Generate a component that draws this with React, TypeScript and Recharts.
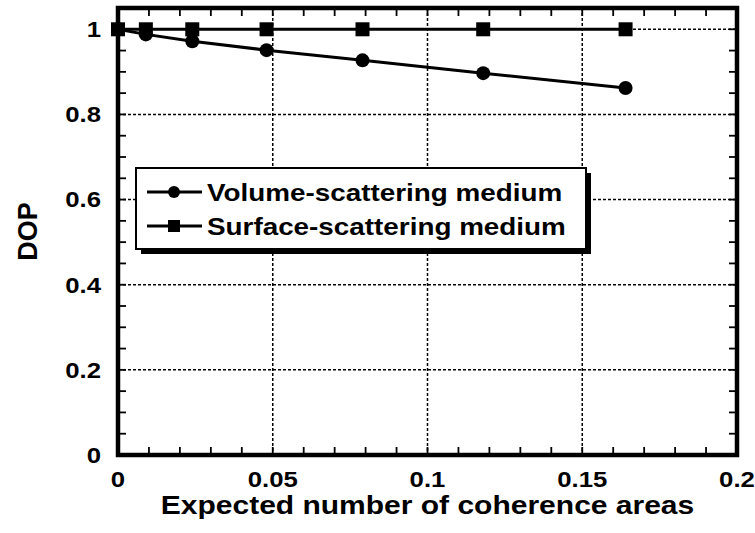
import React from 'react';
import { LineChart, Line, XAxis, YAxis, CartesianGrid, Legend, ReferenceLine, ReferenceArea } from 'recharts';

// values
const coherenceAreas = [0, 0.009, 0.024, 0.048, 0.079, 0.118, 0.164];
const volumeDop = [1.0, 0.988, 0.972, 0.951, 0.927, 0.897, 0.862];
const surfaceDop = [1.0, 1.0, 1.0, 1.0, 1.0, 1.0, 1.0];

const seriesNames = ['Volume-scattering medium', 'Surface-scattering medium'];

const xMajorTicks = [0, 0.05, 0.1, 0.15, 0.2];
const xAllTicks = [
  0, 0.01, 0.02, 0.03, 0.04, 0.05, 0.06, 0.07, 0.08, 0.09, 0.1,
  0.11, 0.12, 0.13, 0.14, 0.15, 0.16, 0.17, 0.18, 0.19, 0.2,
];
const yMajorTicks = [0, 0.2, 0.4, 0.6, 0.8, 1];
const yAllTicks = [
  0, 0.05, 0.1, 0.15, 0.2, 0.25, 0.3, 0.35, 0.4, 0.45, 0.5,
  0.55, 0.6, 0.65, 0.7, 0.75, 0.8, 0.85, 0.9, 0.95, 1,
];

const volumeData = coherenceAreas.map((x, i) => ({ x, dop: volumeDop[i] }));
const surfaceData = coherenceAreas.map((x, i) => ({ x, dop: surfaceDop[i] }));

const FONT = '"Liberation Sans", Arial, Helvetica, sans-serif';
const STRETCH = 1.17; // the original lettering is a bit wide
const X_DOMAIN = [0, 0.2];
const Y_DOMAIN = [0, 1.05];
const TICK_LEN = 8;

const XTick = ({ x, y, payload }: any) => {
  if (!xMajorTicks.includes(payload.value)) return <g />;
  return (
    <g transform={`translate(${x},${y}) scale(${STRETCH},1)`}>
      <text textAnchor="middle" dy="0.71em" fontSize={22} fontWeight="bold" fontFamily={FONT} fill="#000">
        {payload.value}
      </text>
    </g>
  );
};

const YTick = ({ x, y, payload }: any) => {
  if (!yMajorTicks.includes(payload.value)) return <g />;
  return (
    <g transform={`translate(${x},${y}) scale(${STRETCH},1)`}>
      <text textAnchor="end" dy="0.36em" fontSize={22} fontWeight="bold" fontFamily={FONT} fill="#000">
        {payload.value}
      </text>
    </g>
  );
};

const XTitle = (props: any) => {
  const { x, y, width } = props.viewBox;
  return (
    <g transform={`translate(${x + width / 2},${y + 59}) scale(1.2,1)`}>
      <text textAnchor="middle" fontSize={25} fontWeight="bold" fontFamily={FONT} fill="#000">
        Expected number of coherence areas
      </text>
    </g>
  );
};

const YTitle = (props: any) => {
  const { y, height } = props.viewBox;
  const cy = y + height / 2;
  return (
    <text
      transform={`translate(37,${cy}) rotate(-90)`}
      textAnchor="middle"
      fontSize={27}
      fontWeight="bold"
      fontFamily={FONT}
      fill="#000"
    >
      DOP
    </text>
  );
};

// inward tick marks at both ends of a vertical reference line
const XTickMarks = (props: any) => {
  const { x1, y1, y2 } = props;
  const top = Math.min(y1, y2);
  const bot = Math.max(y1, y2);
  return (
    <g>
      <line x1={x1} x2={x1} y1={top} y2={top + TICK_LEN} stroke="#000" strokeWidth={1.8} />
      <line x1={x1} x2={x1} y1={bot - TICK_LEN} y2={bot} stroke="#000" strokeWidth={1.8} />
    </g>
  );
};

// inward tick marks at both ends of a horizontal reference line
const YTickMarks = (props: any) => {
  const { x1, x2, y1 } = props;
  const left = Math.min(x1, x2);
  const right = Math.max(x1, x2);
  return (
    <g>
      <line x1={left} x2={left + TICK_LEN} y1={y1} y2={y1} stroke="#000" strokeWidth={1.8} />
      <line x1={right - TICK_LEN} x2={right} y1={y1} y2={y1} stroke="#000" strokeWidth={1.8} />
    </g>
  );
};

const SquareDot = ({ cx, cy, index }: any) => (
  <rect key={`sq-${index}`} x={cx - 7} y={cy - 7} width={14} height={14} fill="#000" />
);

const LegendBox = ({ payload }: any) => {
  const items = (payload || [])
    .filter((p: any) => seriesNames.includes(p.value))
    .sort((a: any, b: any) => seriesNames.indexOf(a.value) - seriesNames.indexOf(b.value));
  return (
    <svg width={460} height={90} style={{ display: 'block' }}>
      <rect x={6} y={6} width={450} height={81} fill="#000" />
      <rect x={1} y={1} width={450} height={81} fill="#fff" stroke="#000" strokeWidth={2} />
      {items.map((p: any, i: number) => {
        const cy = 25 + i * 34;
        return (
          <g key={p.value}>
            <line x1={12} y1={cy} x2={67} y2={cy} stroke="#000" strokeWidth={3} />
            {p.type === 'square' ? (
              <rect x={33} y={cy - 6} width={12} height={12} fill="#000" />
            ) : (
              <circle cx={39} cy={cy} r={6} fill="#000" />
            )}
            <g transform={`translate(72,${cy + 9}) scale(1.16,1)`}>
              <text fontSize={24} fontWeight="bold" fontFamily={FONT} fill="#000">
                {p.value}
              </text>
            </g>
          </g>
        );
      })}
    </svg>
  );
};

export default function App() {
  return (
    <div style={{ position: 'absolute', left: 0, top: 0, width: 755, height: 533, background: '#fff' }}>
      <LineChart width={755} height={533} margin={{ top: 8, right: 18, bottom: 0, left: 0 }}>
        <CartesianGrid
          horizontalValues={[0.2, 0.4, 0.6, 0.8, 1]}
          verticalValues={[0.05, 0.1, 0.15]}
          stroke="#000"
          strokeWidth={1.5}
          strokeDasharray="3 2"
        />
        <XAxis
          dataKey="x"
          type="number"
          domain={X_DOMAIN}
          ticks={xMajorTicks}
          interval={0}
          height={78}
          axisLine={false}
          tickLine={false}
          tickSize={0}
          tickMargin={16}
          tick={<XTick />}
          label={XTitle}
        />
        <YAxis
          type="number"
          domain={Y_DOMAIN}
          ticks={yMajorTicks}
          interval={0}
          width={118}
          axisLine={false}
          tickLine={false}
          tickSize={0}
          tickMargin={17}
          tick={<YTick />}
          label={YTitle}
        />
        {xAllTicks.map((v) => (
          <ReferenceLine key={`xt-${v}`} x={v} shape={XTickMarks} />
        ))}
        {yAllTicks.map((v) => (
          <ReferenceLine key={`yt-${v}`} y={v} shape={YTickMarks} />
        ))}
        <ReferenceArea
          x1={X_DOMAIN[0]}
          x2={X_DOMAIN[1]}
          y1={Y_DOMAIN[0]}
          y2={Y_DOMAIN[1]}
          fill="none"
          fillOpacity={0}
          stroke="#000"
          strokeWidth={4.5}
        />
        <Legend
          layout="horizontal"
          verticalAlign="middle"
          align="center"
          width={460}
          wrapperStyle={{ left: 135, top: 167, width: 460 }}
          content={<LegendBox />}
        />
        <Line
          data={volumeData}
          dataKey="dop"
          name={seriesNames[0]}
          legendType="circle"
          stroke="#000"
          strokeWidth={3}
          dot={{ r: 7, fill: '#000', stroke: '#000', strokeWidth: 0 }}
          isAnimationActive={false}
        />
        <Line
          data={surfaceData}
          dataKey="dop"
          name={seriesNames[1]}
          legendType="square"
          stroke="#000"
          strokeWidth={3}
          dot={<SquareDot />}
          isAnimationActive={false}
        />
      </LineChart>
    </div>
  );
}
